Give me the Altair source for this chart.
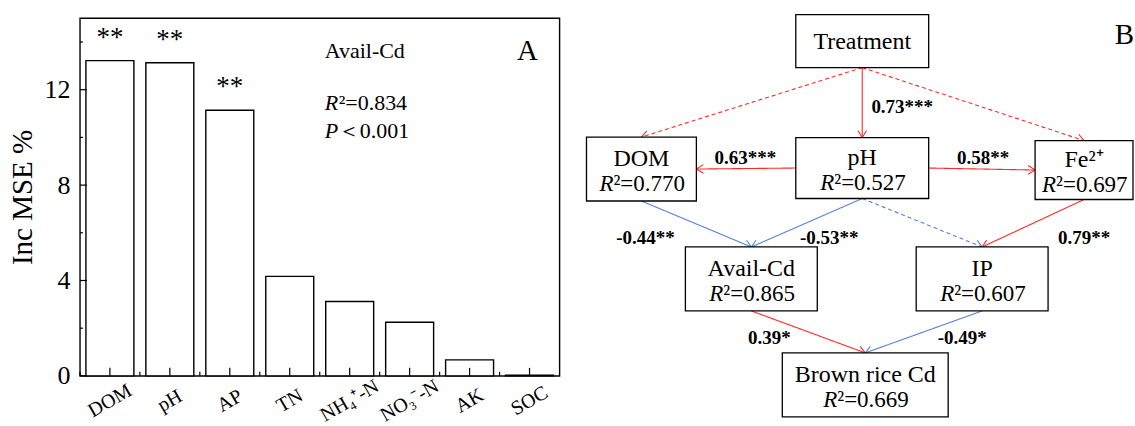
import math

import altair as alt
import pandas as pd

SERIF = "Liberation Serif"
RED = "#FF2A2A"
BLUE = "#5584D6"

# ---------------- Panel A: importance of soil properties for available Cd
factors = ["DOM", "pH", "AP", "TN", "NH₄⁺-N", "NO₃⁻-N", "AK", "SOC"]
inc_mse = [13.22, 13.13, 11.14, 4.17, 3.12, 2.25, 0.67, 0.03]
signif = ["**", "**", "**", "", "", "", "", ""]
major_ticks = [0, 4, 8, 12]
minor_ticks = [2, 6, 10, 14]

# ---------------- Panel B: structural equation model
node_names = ["Treatment", "DOM", "pH", "Fe²⁺", "Avail-Cd", "IP", "Brown rice Cd"]
node_r2 = ["", "0.770", "0.527", "0.697", "0.865", "0.607", "0.669"]
# layout of the boxes (diagram units = px inside panel B)
node_cx = [292, 71, 292, 514, 181, 412, 295]
node_cy = [23, 151, 150, 152, 261, 261, 367]
node_w = [133, 110, 133, 98, 132, 132, 166]
node_h = [53, 64, 61, 59, 64, 64, 64]

path_from = ["Treatment", "Treatment", "Treatment", "pH", "pH", "DOM", "pH", "pH",
             "Fe²⁺", "Avail-Cd", "IP"]
path_to = ["pH", "DOM", "Fe²⁺", "DOM", "Fe²⁺", "Avail-Cd", "Avail-Cd", "IP", "IP",
           "Brown rice Cd", "Brown rice Cd"]
path_from_side = ["bottom", "bottom", "bottom", "left", "right", "bottom", "bottom",
                  "bottom", "bottom", "bottom", "bottom"]
path_to_side = ["top", "top", "top", "right", "left", "top", "top", "top", "top",
                "top", "top"]
path_coef = ["0.73***", "", "", "0.63***", "0.58**", "-0.44**", "-0.53**", "",
             "0.79**", "0.39*", "-0.49*"]
path_sign = ["+", "+", "+", "+", "+", "-", "-", "-", "+", "+", "-"]
path_significant = [True, False, False, True, True, True, True, False, True, True, True]
# where each coefficient label sits
coef_x = [332, 0, 0, 175, 413, 75, 259, 0, 514, 199, 392]
coef_y = [89, 0, 0, 140, 140, 220, 220, 0, 220, 320, 320]

PANEL_B_W, PANEL_B_H = 565, 413

# ======================= Panel A =======================
bars_df = pd.DataFrame({"factor": factors, "value": inc_mse, "sig": signif})
one_row = pd.DataFrame({"k": [0]})
x_scale = alt.Scale(paddingInner=0.2, paddingOuter=0.1)
y_scale = alt.Scale(domain=[0, 15], nice=False)
y_axis = alt.Axis(values=major_ticks, title="Inc MSE %", titleFont=SERIF,
                  titleFontSize=29, titleFontWeight="normal", titleColor="black",
                  titlePadding=6, labelFont=SERIF, labelFontSize=26,
                  labelColor="black", labelPadding=10, ticks=False,
                  domain=False, grid=False)
x_enc = alt.X("factor:N", sort=factors, scale=x_scale, axis=None)
y_enc = alt.Y("value:Q", scale=y_scale, axis=y_axis)

bars = alt.Chart(bars_df).mark_bar(fill="white", stroke="black", strokeWidth=1.4).encode(
    x=x_enc, y=y_enc)

stars = alt.Chart(bars_df).mark_text(
    font=SERIF, fontSize=27, baseline="alphabetic", dy=-15, color="black"
).encode(x=x_enc, y=y_enc, text="sig:N")

# slanted category labels under the x axis
x_labels = alt.Chart(bars_df).mark_text(
    font=SERIF, fontSize=20, angle=330, align="center", baseline="middle", color="black"
).encode(x=x_enc, y=alt.value(383), text="factor:N")

ytick_major = alt.Chart(pd.DataFrame({"value": major_ticks})).mark_rule(
    color="black", strokeWidth=1.2).encode(y=y_enc, x=alt.value(0), x2=alt.value(7))
ytick_minor = alt.Chart(pd.DataFrame({"value": minor_ticks})).mark_rule(
    color="black", strokeWidth=1.2).encode(y=y_enc, x=alt.value(0), x2=alt.value(3))
xtick_mid = alt.Chart(bars_df).mark_rule(color="black", strokeWidth=1.2).encode(
    x=x_enc, y=alt.value(358), y2=alt.value(350))
xtick_edge = alt.Chart(bars_df).mark_rule(color="black", strokeWidth=1.2, xOffset=-6).encode(
    x=alt.X("factor:N", sort=factors, scale=x_scale, axis=None, bandPosition=0),
    y=alt.value(358), y2=alt.value(354))

note_font = dict(font=SERIF, fontSize=22, color="black", align="left", baseline="alphabetic")
notes = [
    alt.Chart(one_row).mark_text(text="Avail-Cd", **note_font).encode(
        x=alt.value(245), y=alt.value(40)),
    alt.Chart(one_row).mark_text(text="R", fontStyle="italic", **note_font).encode(
        x=alt.value(245), y=alt.value(92)),
    alt.Chart(one_row).mark_text(text="²=0.834", **note_font).encode(
        x=alt.value(259), y=alt.value(92)),
    alt.Chart(one_row).mark_text(text="P", fontStyle="italic", **note_font).encode(
        x=alt.value(245), y=alt.value(120)),
    alt.Chart(one_row).mark_text(text="＜0.001", **note_font).encode(
        x=alt.value(258), y=alt.value(120)),
    alt.Chart(one_row).mark_text(text="A", font=SERIF, fontSize=29, color="black",
                                 align="center", baseline="alphabetic").encode(
        x=alt.value(448), y=alt.value(42)),
]

panel_a = alt.layer(bars, ytick_major, ytick_minor, xtick_mid, xtick_edge, stars,
                    x_labels, *notes).properties(width=480, height=358)

# ======================= Panel B =======================
nodes = pd.DataFrame({"name": node_names, "r2": node_r2, "cx": node_cx, "cy": node_cy,
                      "w": node_w, "h": node_h})
nodes["x0"] = nodes.cx - nodes.w / 2
nodes["x1"] = nodes.cx + nodes.w / 2
nodes["y0"] = nodes.cy - nodes.h / 2
nodes["y1"] = nodes.cy + nodes.h / 2
nodes["r2_text"] = ["²=" + r if r else "" for r in node_r2]
nodes["r_text"] = ["R" if r else "" for r in node_r2]
nodes["name_y"] = [cy + 8 if not r else cy - 3 for cy, r in zip(node_cy, node_r2)]
nodes["r2_y"] = nodes.cy + 22
lookup = nodes.set_index("name")


def anchor(name, side):
    n = lookup.loc[name]
    if side == "top":
        return n.cx, n.y0
    if side == "bottom":
        return n.cx, n.y1
    if side == "left":
        return n.x0, n.cy
    return n.x1, n.cy


rows = []
for src, dst, s_side, d_side, sign, sig in zip(path_from, path_to, path_from_side,
                                               path_to_side, path_sign, path_significant):
    xa, ya = anchor(src, s_side)
    xb, yb = anchor(dst, d_side)
    ang = math.degrees(math.atan2(yb - ya, xb - xa)) % 360
    rows.append({"xa": xa, "ya": ya, "xb": xb, "yb": yb, "angle": ang, "sign": sign,
                 "style": "solid" if sig else "dashed"})
edges = pd.DataFrame(rows)

coefs = pd.DataFrame({"label": path_coef, "x": coef_x, "y": coef_y})
coefs = coefs[coefs.label != ""]

bx = alt.Scale(domain=[0, PANEL_B_W], nice=False, zero=False)
by = alt.Scale(domain=[0, PANEL_B_H], nice=False, zero=False, reverse=True)
color_enc = alt.Color("sign:N", scale=alt.Scale(domain=["+", "-"], range=[RED, BLUE]),
                      legend=None)

links = alt.Chart(edges).mark_rule(strokeWidth=1.1).encode(
    x=alt.X("xa:Q", scale=bx, axis=None), y=alt.Y("ya:Q", scale=by, axis=None),
    x2="xb:Q", y2="yb:Q", color=color_enc,
    strokeDash=alt.StrokeDash("style:N", scale=alt.Scale(domain=["solid", "dashed"],
                                                         range=[[1, 0], [4, 3]]),
                              legend=None),
)
heads = alt.Chart(edges).mark_point(
    shape="M -1 -0.62 L 0 0 L -1 0.62", filled=False, size=196, strokeWidth=1.1,
    opacity=1).encode(
    x=alt.X("xb:Q", scale=bx, axis=None), y=alt.Y("yb:Q", scale=by, axis=None),
    angle=alt.Angle("angle:Q", scale=None), color=color_enc)

boxes = alt.Chart(nodes).mark_rect(fill="white", stroke="black", strokeWidth=1.3).encode(
    x=alt.X("x0:Q", scale=bx, axis=None), x2="x1:Q",
    y=alt.Y("y0:Q", scale=by, axis=None), y2="y1:Q")
names = alt.Chart(nodes).mark_text(font=SERIF, fontSize=24, color="black",
                                   baseline="alphabetic").encode(
    x=alt.X("cx:Q", scale=bx, axis=None), y=alt.Y("name_y:Q", scale=by, axis=None),
    text="name:N")
r_italic = alt.Chart(nodes).mark_text(font=SERIF, fontSize=23, fontStyle="italic",
                                      color="black", align="right", baseline="alphabetic",
                                      dx=-28).encode(
    x=alt.X("cx:Q", scale=bx, axis=None), y=alt.Y("r2_y:Q", scale=by, axis=None),
    text="r_text:N")
r_value = alt.Chart(nodes).mark_text(font=SERIF, fontSize=23, color="black", align="left",
                                     baseline="alphabetic", dx=-28).encode(
    x=alt.X("cx:Q", scale=bx, axis=None), y=alt.Y("r2_y:Q", scale=by, axis=None),
    text="r2_text:N")
coef_text = alt.Chart(coefs).mark_text(font=SERIF, fontSize=19, fontWeight="bold",
                                       color="black", baseline="middle").encode(
    x=alt.X("x:Q", scale=bx, axis=None), y=alt.Y("y:Q", scale=by, axis=None),
    text="label:N")
tag_b = alt.Chart(one_row).mark_text(text="B", font=SERIF, fontSize=29, color="black",
                                     align="right", baseline="alphabetic").encode(
    x=alt.value(PANEL_B_W - 1), y=alt.value(26))

panel_b = alt.layer(links, heads, boxes, names, r_italic, r_value, coef_text, tag_b).properties(
    width=PANEL_B_W, height=PANEL_B_H, view=alt.ViewBackground(stroke=None))

chart = alt.hconcat(panel_a, panel_b, spacing=10).configure(
    padding={"left": 8, "top": 13, "right": 0, "bottom": 0},
    background="white",
).configure_view(stroke="black", strokeWidth=1.4)

chart.save("out.html", embed_options={"renderer": "svg", "actions": False})
